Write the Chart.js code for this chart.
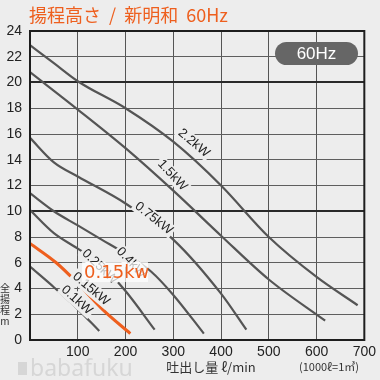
<!DOCTYPE html>
<html>
<head>
<meta charset="utf-8">
<script src="https://cdn.jsdelivr.net/npm/chart.js@4"></script>
<style>
  html, body { margin: 0; padding: 0; background: #ededed; }
  canvas { display: block; }
</style>
</head>
<body>
<canvas id="pumpChart" width="380" height="380"></canvas>
<script>
// pump curves (flow l/min -> total head m)
const flow22 = [0, 50, 100, 200, 300, 400, 500, 600, 686];
const head22 = [22.9, 21.5, 20.1, 18.0, 15.4, 12.0, 8.0, 4.9, 2.7];
const flow15 = [0, 100, 200, 300, 400, 500, 618];
const head15 = [20.8, 17.9, 14.9, 11.6, 8.1, 4.7, 1.5];
const flow075 = [0, 50, 100, 200, 300, 400, 453];
const head075 = [15.7, 13.8, 12.7, 10.6, 7.8, 3.6, 0.8];
const flow04 = [0, 50, 100, 150, 200, 254, 300, 364];
const head04 = [11.4, 10.0, 8.9, 7.8, 6.7, 5.3, 3.5, 0.5];
const flow025 = [0, 50, 100, 150, 200, 261];
const head025 = [10.1, 8.3, 7.1, 5.8, 3.8, 0.8];
const flow015 = [0, 55, 100, 154, 210];
const head015 = [7.5, 6.0, 4.4, 2.3, 0.5];
const flow01 = [0, 50, 100, 145];
const head01 = [5.7, 4.1, 2.4, 0.7];

const xTicks = [100, 200, 300, 400, 500, 600, 700];
const yTicks = [0, 2, 4, 6, 8, 10, 12, 14, 16, 18, 20, 22, 24];

const GRAY = "#555";
const ORANGE = "#ee5f1e";

function pts(xs, ys) {
  return xs.map((x, i) => ({ x: x, y: ys[i] }));
}

function curve(label, xs, ys, color, width) {
  return {
    label: label,
    data: pts(xs, ys),
    borderColor: color,
    borderWidth: width,
    pointRadius: 0,
    fill: false,
    cubicInterpolationMode: "monotone",
  };
}

// curve labels: text, anchor (data units), angle
const curveLabels = [
  { text: "2.2kW", x: 343, y: 15.3, angle: 40 },
  { text: "1.5kW", x: 298, y: 12.8, angle: 47 },
  { text: "0.75kW", x: 259, y: 9.45, angle: 38 },
  { text: "0.4kW", x: 212, y: 6.0, angle: 47 },
  { text: "0.25kW", x: 146, y: 5.7, angle: 44 },
  { text: "0.15kW", x: 128, y: 3.96, angle: 40 },
  { text: "0.1kW", x: 98, y: 3.1, angle: 42 },
];

const decor = {
  id: "decor",
  beforeDraw(chart) {
    const c = chart.ctx;
    c.save();
    c.fillStyle = "#ededed";
    c.fillRect(0, 0, chart.width, chart.height);
    c.restore();
  },
  afterDatasetsDraw(chart) {
    const c = chart.ctx;
    const xs = chart.scales.x, ys = chart.scales.y;
    const a = chart.chartArea;

    // gray labels along the curves
    c.save();
    c.font = "13px 'Liberation Sans', Arial, sans-serif";
    c.textAlign = "center";
    c.textBaseline = "middle";
    curveLabels.forEach(l => {
      const px = xs.getPixelForValue(l.x);
      const py = ys.getPixelForValue(l.y);
      c.save();
      c.translate(px, py);
      c.rotate(l.angle * Math.PI / 180);
      const w = c.measureText(l.text).width;
      c.fillStyle = "#ededed";
      c.fillRect(-w / 2 - 2, -7, w + 4, 14);
      c.fillStyle = "#222";
      c.fillText(l.text, 0, 0);
      c.restore();
    });
    c.restore();

    // orange highlight label
    c.save();
    const bx = xs.getPixelForValue(109), by = ys.getPixelForValue(6.06);
    const bx2 = xs.getPixelForValue(247), by2 = ys.getPixelForValue(4.5);
    c.fillStyle = "rgba(255,255,255,0.72)";
    c.fillRect(bx, by, bx2 - bx, by2 - by);
    c.fillStyle = ORANGE;
    c.font = "18px 'DejaVu Sans', sans-serif";
    c.textBaseline = "middle";
    c.textAlign = "left";
    c.fillText("0.15kw", bx + 2, (by + by2) / 2 + 1);
    c.restore();

    // plot frame
    c.save();
    c.strokeStyle = "#1e1e1e";
    c.lineWidth = 2;
    c.strokeRect(a.left, a.top, a.right - a.left, a.bottom - a.top);
    c.restore();

    // 60Hz badge
    c.save();
    const x0 = 275, y0 = 42, w = 83, h = 23, r = 11.5;
    c.fillStyle = "#666";
    c.beginPath();
    c.moveTo(x0 + r, y0);
    c.lineTo(x0 + w - r, y0);
    c.arc(x0 + w - r, y0 + r, r, -Math.PI / 2, Math.PI / 2);
    c.lineTo(x0 + r, y0 + h);
    c.arc(x0 + r, y0 + r, r, Math.PI / 2, Math.PI * 1.5);
    c.fill();
    c.fillStyle = "#fff";
    c.font = "17px 'Liberation Sans', Arial, sans-serif";
    c.textAlign = "center";
    c.textBaseline = "middle";
    c.fillText("60Hz", x0 + w / 2, y0 + h / 2 + 1);
    c.restore();
  },
  afterDraw(chart) {
    const c = chart.ctx;
    c.save();
    // title
    c.fillStyle = ORANGE;
    c.font = "18px 'Noto Sans CJK JP', sans-serif";
    c.textBaseline = "middle";
    c.textAlign = "left";
    c.fillText("揚程高さ  /  新明和  60Hz", 29, 15);

    // y axis title (stacked)
    c.fillStyle = "#333";
    c.font = "10px 'Noto Sans CJK JP', sans-serif";
    c.textAlign = "center";
    ["全", "揚", "程", "m"].forEach((ch, i) => c.fillText(ch, 5, 288 + i * 11));

    // x axis title
    c.font = "13px 'Noto Sans CJK JP', sans-serif";
    c.fillText("吐出し量 ℓ/min", 211, 367);
    c.font = "11px 'Noto Sans CJK JP', sans-serif";
    c.fillText("(1000ℓ=1㎥)", 329, 367);

    // watermark
    c.fillStyle = "#d6d6d6";
    c.fillRect(18, 362, 9, 13);
    c.font = "23px 'Noto Sans', sans-serif";
    c.textAlign = "left";
    c.fillText("babafuku", 30, 369);
    c.restore();
  },
};

const ctx = document.getElementById("pumpChart").getContext("2d");
const pumpChart = new Chart(ctx, {
  type: "line",
  data: {
    datasets: [
      curve("2.2kW", flow22, head22, GRAY, 2.2),
      curve("1.5kW", flow15, head15, GRAY, 2.2),
      curve("0.75kW", flow075, head075, GRAY, 2.2),
      curve("0.4kW", flow04, head04, GRAY, 2.2),
      curve("0.25kW", flow025, head025, GRAY, 2.2),
      curve("0.1kW", flow01, head01, GRAY, 2.2),
      curve("0.15kW", flow015, head015, ORANGE, 3),
    ],
  },
  options: {
    responsive: false,
    animation: false,
    layout: { padding: { top: 31, right: 10, left: 0, bottom: 0 } },
    plugins: { legend: { display: false }, tooltip: { enabled: false } },
    scales: {
      x: {
        type: "linear",
        min: 0,
        max: 700,
        afterFit(s) { s.height = 40; },
        afterBuildTicks(s) { s.ticks = [0].concat(xTicks).map(v => ({ value: v })); },
        border: { display: false },
        grid: { color: "#555", lineWidth: 1, drawTicks: false },
        ticks: {
          padding: 4,
          color: "#222",
          font: { size: 14, family: "'Liberation Sans', Arial, sans-serif" },
          callback: v => (v === 0 ? "" : v),
        },
      },
      y: {
        min: 0,
        max: 24,
        afterFit(s) { s.width = 30; },
        afterBuildTicks(s) { s.ticks = yTicks.map(v => ({ value: v })); },
        border: { display: false },
        grid: {
          drawTicks: false,
          color: c => (c.tick && c.tick.value % 10 === 0 ? "#2a2a2a" : "#5e5e5e"),
          lineWidth: c => (c.tick && c.tick.value % 10 === 0 ? 2 : 1),
        },
        ticks: {
          padding: 8,
          color: "#222",
          font: { size: 14, family: "'Liberation Sans', Arial, sans-serif" },
        },
      },
    },
  },
  plugins: [decor],
});
</script>
</body>
</html>
